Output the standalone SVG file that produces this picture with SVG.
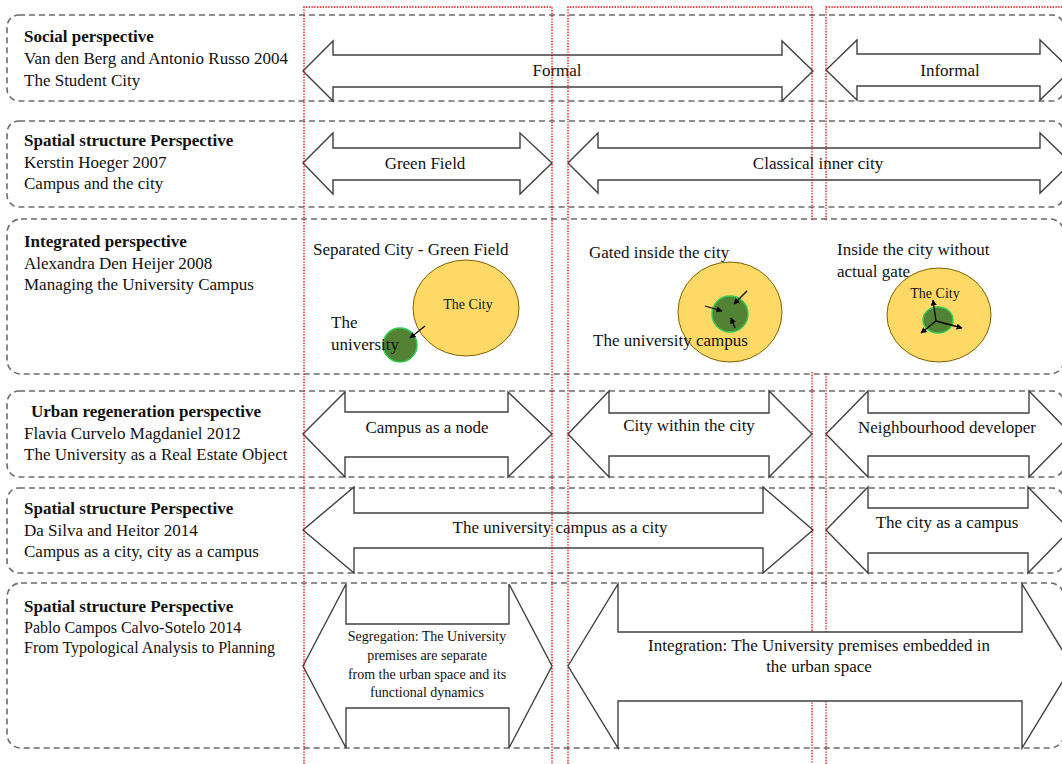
<svg xmlns="http://www.w3.org/2000/svg" width="1062" height="764" viewBox="0 0 1062 764">
<defs>
<style>
.row{fill:none;stroke:#6b6b6b;stroke-width:1.6;stroke-dasharray:6 4}
.arr{fill:#fff;stroke:#404040;stroke-width:1.4;stroke-linejoin:miter}
.red{fill:none;stroke:#e00000;stroke-width:1.3;stroke-dasharray:1.4 1.4}
text{font-family:"Liberation Serif","Times New Roman",serif;fill:#111}
.lb{font-size:17px}
.hd{font-size:17px;font-weight:bold}
.sm{font-size:16px}
.c{text-anchor:middle}
.cy{font-size:14px;text-anchor:middle}
.seg{font-size:14px;text-anchor:middle}
.yel{fill:#ffd966;stroke:#806000;stroke-width:1}
.grn{fill:#548235;stroke:#2ecc55;stroke-width:1.5}
.pt{stroke:#000;stroke-width:1.3;fill:none}
</style>
<marker id="ah" viewBox="0 0 10 10" refX="9" refY="5" markerWidth="6" markerHeight="6" orient="auto" markerUnits="userSpaceOnUse">
<path d="M0,0 L10,5 L0,10 Z" fill="#000"/>
</marker>
</defs>
<rect width="1062" height="764" fill="#fff"/>

<g id="row1">
<rect class="row" x="7" y="15" width="1057" height="86" rx="12"/>
<text class="hd" x="24" y="42">Social perspective</text>
<text class="lb" x="24" y="64">Van den Berg and Antonio Russo 2004</text>
<text class="lb" x="24" y="86">The Student City</text>
</g>
<g id="row2">
<rect class="row" x="7" y="121" width="1057" height="86" rx="12"/>
<text class="hd" x="24" y="146">Spatial structure Perspective</text>
<text class="lb" x="24" y="168">Kerstin Hoeger 2007</text>
<text class="lb" x="24" y="189">Campus and the city</text>
</g>
<g id="row3">
<rect class="row" x="7" y="219" width="1057" height="155" rx="14"/>
<text class="hd" x="24" y="247">Integrated perspective</text>
<text class="lb" x="24" y="269">Alexandra Den Heijer 2008</text>
<text class="lb" x="24" y="290">Managing the University Campus</text>
</g>
<g id="row4">
<rect class="row" x="7" y="391" width="1057" height="86" rx="12"/>
<text class="hd" x="31" y="417">Urban regeneration perspective</text>
<text class="lb" x="24" y="439">Flavia Curvelo Magdaniel 2012</text>
<text class="lb" x="24" y="460">The University as a Real Estate Object</text>
</g>
<g id="row5">
<rect class="row" x="7" y="488" width="1057" height="85" rx="12"/>
<text class="hd" x="24" y="514">Spatial structure Perspective</text>
<text class="lb" x="24" y="536">Da Silva and Heitor 2014</text>
<text class="lb" x="24" y="557">Campus as a city, city as a campus</text>
</g>
<g id="row6">
<rect class="row" x="7" y="583" width="1057" height="165" rx="14"/>
<text class="hd" x="24" y="612">Spatial structure Perspective</text>
<text class="sm" x="24" y="633">Pablo Campos Calvo-Sotelo 2014</text>
<text class="sm" x="24" y="653">From Typological Analysis to Planning</text>
</g>

<g id="connectors">
<g id="a-formal">
<path class="arr" d="M303,71 L333,41 L333,55 L782,55 L782,41 L813,71 L782,101 L782,87 L333,87 L333,101 Z"/>
<text class="lb c" x="557" y="76">Formal</text>
</g>
<g id="a-informal">
<path class="arr" d="M826,70 L857,40 L857,54 L1040,54 L1040,40 L1071,70 L1040,100 L1040,86 L857,86 L857,100 Z"/>
<text class="lb c" x="950" y="76">Informal</text>
</g>
<g id="a-green">
<path class="arr" d="M303,163 L333,133 L333,148 L520,148 L520,133 L552,163 L520,194 L520,180 L333,180 L333,194 Z"/>
<text class="lb c" x="425" y="169">Green Field</text>
</g>
<g id="a-classical">
<path class="arr" d="M568,163 L598,133 L598,148 L1040,148 L1040,133 L1071,163 L1040,193 L1040,180 L598,180 L598,193 Z"/>
<text class="lb c" x="818" y="169">Classical inner city</text>
</g>
<g id="a-node">
<path class="arr" d="M303,434 L345,392 L345,412 L508,412 L508,392 L552,434 L508,477 L508,457 L345,457 L345,477 Z"/>
<text class="lb c" x="427" y="433">Campus as a node</text>
</g>
<g id="a-within">
<path class="arr" d="M568,434 L609,391 L609,413 L769,413 L769,391 L812,434 L769,477 L769,456 L609,456 L609,477 Z"/>
<text class="lb c" x="689" y="431">City within the city</text>
</g>
<g id="a-neigh">
<path class="arr" d="M826,434 L868,391 L868,413 L1029,413 L1029,391 L1071,434 L1029,477 L1029,456 L868,456 L868,477 Z"/>
<text class="lb c" x="947" y="433">Neighbourhood developer</text>
</g>
<g id="a-campuscity">
<path class="arr" d="M303,530 L354,487 L354,513 L763,513 L763,487 L813,530 L763,573 L763,548 L354,548 L354,573 Z"/>
<text class="lb c" x="560" y="533">The university campus as a city</text>
</g>
<g id="a-citycampus">
<path class="arr" d="M826,530 L868,487 L868,508 L1028,508 L1028,487 L1070,530 L1028,573 L1028,553 L868,553 L868,573 Z"/>
<text class="lb c" x="947" y="528">The city as a campus</text>
</g>
<g id="a-seg">
<path class="arr" d="M303,666 L346,584 L346,624 L509,624 L509,584 L552,666 L509,748 L509,708 L346,708 L346,748 Z"/>
<text class="seg" x="427" y="641">Segregation: The University</text>
<text class="seg" x="427" y="660">premises are separate</text>
<text class="seg" x="427" y="679">from the urban space and its</text>
<text class="seg" x="427" y="697">functional dynamics</text>
</g>
</g>

<g id="circles">
<g id="sep">
<text class="lb" x="313" y="255">Separated City - Green Field</text>
<ellipse class="yel" cx="466" cy="308" rx="53" ry="48"/>
<text class="cy" x="468" y="309">The City</text>
<circle class="grn" cx="400" cy="345" r="17"/>
<text class="lb" x="331" y="328">The</text>
<text class="lb" x="331" y="350">university</text>
<line class="pt" x1="425" y1="326" x2="410" y2="338" marker-end="url(#ah)"/>
</g>
<g id="gated">
<text class="lb" x="589" y="258">Gated inside the city</text>
<ellipse class="yel" cx="730" cy="312" rx="52" ry="50"/>
<circle class="grn" cx="730" cy="314" r="18"/>
<line class="pt" x1="747" y1="291" x2="734" y2="304" marker-end="url(#ah)"/>
<line class="pt" x1="705" y1="306" x2="722" y2="311" marker-end="url(#ah)"/>
<line class="pt" x1="735" y1="328" x2="731" y2="318" marker-end="url(#ah)"/>
<text class="lb" x="593" y="346">The university campus</text>
</g>
<g id="nogate">
<text class="lb" x="837" y="255">Inside the city without</text>
<text class="lb" x="837" y="277">actual gate</text>
<ellipse class="yel" cx="939" cy="315" rx="52" ry="47"/>
<ellipse class="grn" cx="938" cy="320" rx="15" ry="13"/>
<text class="cy" x="935" y="298">The City</text>
<line class="pt" x1="936" y1="321" x2="933" y2="300" marker-end="url(#ah)"/>
<line class="pt" x1="936" y1="321" x2="921" y2="333" marker-end="url(#ah)"/>
<line class="pt" x1="936" y1="321" x2="962" y2="328" marker-end="url(#ah)"/>
</g>
</g>

<g id="red-frames">
<path class="red" d="M304,764 L304,7 L552,7 L552,764"/>
<path class="red" d="M568,764 L568,7 L812,7 L812,220 M812,372 L812,764"/>
<path class="red" d="M826,764 L826,372 M826,220 L826,7 L1064,7"/>
</g>

<g id="a-integration">
<path class="arr" d="M568,666 L618,584 L618,632 L1022,632 L1022,584 L1072,666 L1022,748 L1022,701 L618,701 L618,748 Z"/>
<text class="lb c" x="819" y="651">Integration: The University premises embedded in</text>
<text class="lb c" x="819" y="672">the urban space</text>
</g>
</svg>
